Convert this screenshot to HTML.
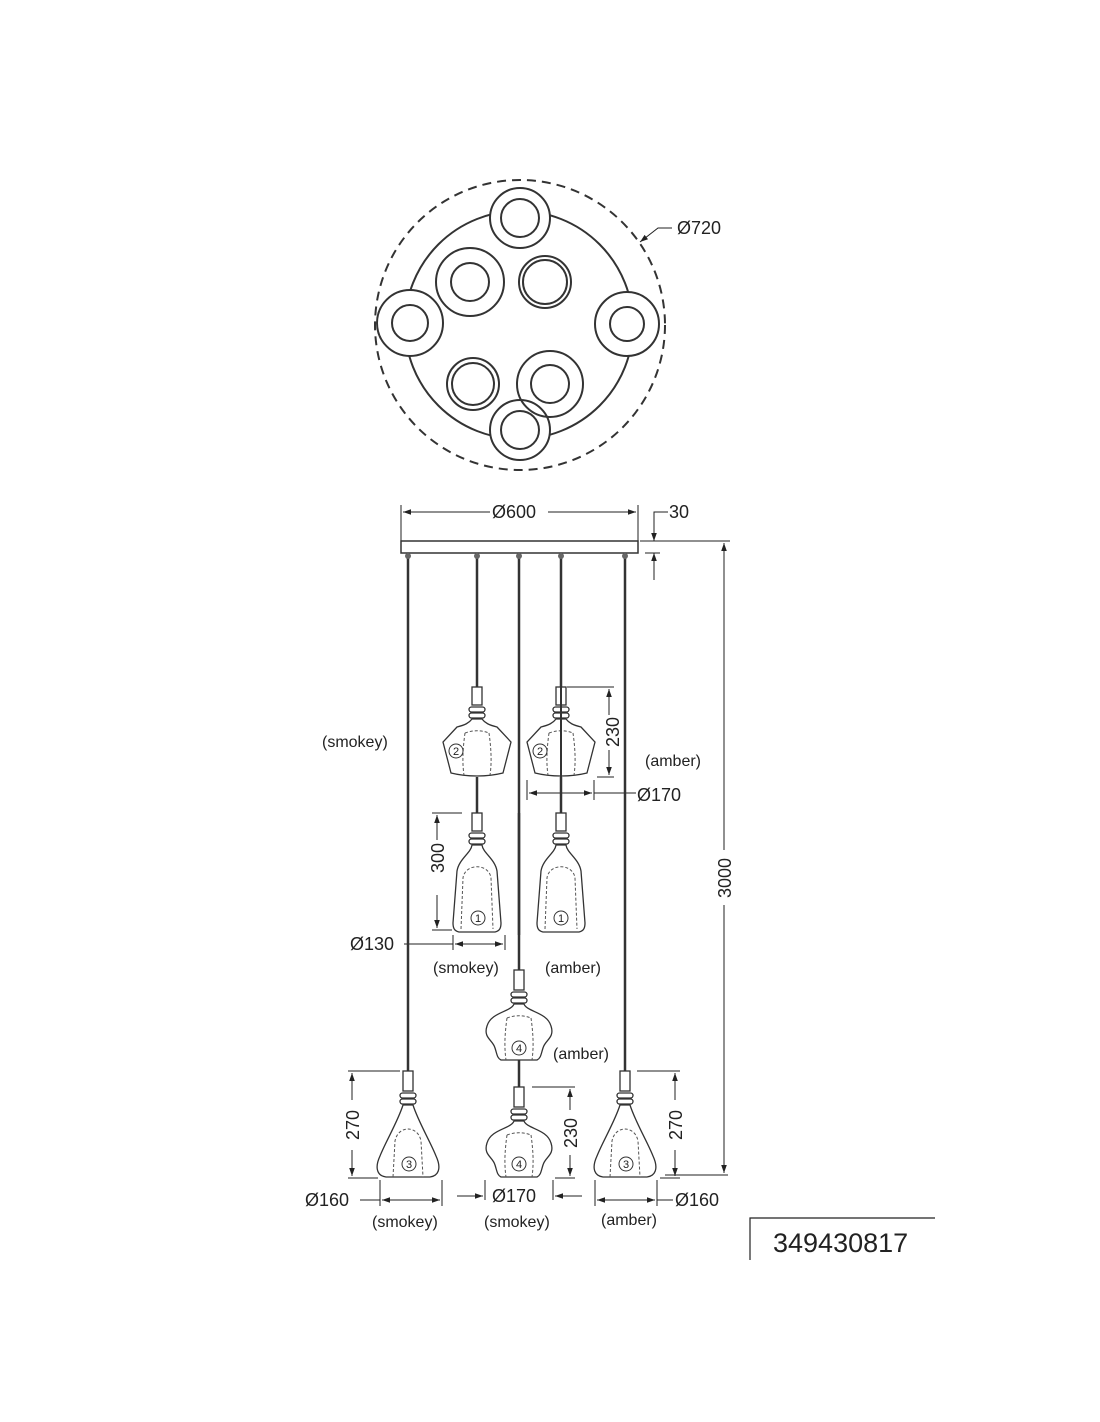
<!DOCTYPE html>
<html><head><style>body{margin:0;background:#fff}svg{display:block}text{font-family:"Liberation Sans",sans-serif;fill:#222}</style></head><body>
<svg width="1100" height="1422" viewBox="0 0 1100 1422" xmlns="http://www.w3.org/2000/svg">
<defs>
<marker id="a" viewBox="0 0 10 10" refX="10" refY="5" markerWidth="12" markerHeight="8" orient="auto-start-reverse" markerUnits="userSpaceOnUse"><path d="M0,1.5 L10,5 L0,8.5z" fill="#222"/></marker>
<g id="p2"><rect x="-5" y="0" width="10" height="18" fill="#fff" stroke="#333" stroke-width="1.3"/><rect x="-8" y="20" width="16" height="5" rx="2.5" fill="#fff" stroke="#333" stroke-width="1.3"/><rect x="-8" y="26" width="16" height="5" rx="2.5" fill="#fff" stroke="#333" stroke-width="1.3"/><path d="M-5,32 C-8,36 -12,38 -20,40 L-34,55 L-26,86 C-10,90 10,90 26,86 L34,55 L20,40 C12,38 8,36 5,32 Z" fill="#fff" stroke="#333" stroke-width="1.3"/><path d="M-12,46 C-14,60 -15,75 -13,88 M12,46 C14,60 15,75 13,88 M-12,46 C-4,43 4,43 12,46" fill="none" stroke="#555" stroke-dasharray="3,2"/></g>
<g id="p1"><rect x="-5" y="0" width="10" height="18" fill="#fff" stroke="#333" stroke-width="1.3"/><rect x="-8" y="20" width="16" height="5" rx="2.5" fill="#fff" stroke="#333" stroke-width="1.3"/><rect x="-8" y="26" width="16" height="5" rx="2.5" fill="#fff" stroke="#333" stroke-width="1.3"/><path d="M-5,32 C-6,40 -18,46 -20,58 L-24,110 C-24,116 -22,118 -18,119 L18,119 C22,118 24,116 24,110 L20,58 C18,46 6,40 5,32 Z" fill="#fff" stroke="#333" stroke-width="1.3"/><path d="M-16,116 L-14,65 C-12,50 12,50 14,65 L16,116" fill="none" stroke="#555" stroke-dasharray="3,2"/></g>
<g id="p4"><rect x="-5" y="0" width="10" height="20" fill="#fff" stroke="#333" stroke-width="1.3"/><rect x="-8" y="22" width="16" height="5" rx="2.5" fill="#fff" stroke="#333" stroke-width="1.3"/><rect x="-8" y="28" width="16" height="5" rx="2.5" fill="#fff" stroke="#333" stroke-width="1.3"/><path d="M-5,34 C-8,42 -28,42 -32,56 C-36,68 -26,70 -24,78 C-22,84 -22,88 -18,90 L18,90 C22,88 22,84 24,78 C26,70 36,68 32,56 C28,42 8,42 5,34 Z" fill="#fff" stroke="#333" stroke-width="1.3"/><path d="M-12,48 C-14,62 -15,76 -13,90 M12,48 C14,62 15,76 13,90 M-12,48 C-4,45 4,45 12,48" fill="none" stroke="#555" stroke-dasharray="3,2"/></g>
<g id="p3"><rect x="-5" y="0" width="10" height="20" fill="#fff" stroke="#333" stroke-width="1.3"/><rect x="-8" y="22" width="16" height="5" rx="2.5" fill="#fff" stroke="#333" stroke-width="1.3"/><rect x="-8" y="28" width="16" height="5" rx="2.5" fill="#fff" stroke="#333" stroke-width="1.3"/><path d="M-5,34 C-10,50 -22,70 -28,85 C-34,98 -30,105 -22,106 L22,106 C30,105 34,98 28,85 C22,70 10,50 5,34 Z" fill="#fff" stroke="#333" stroke-width="1.3"/><path d="M-15,106 L-13,70 C-10,54 10,54 13,70 L15,106" fill="none" stroke="#555" stroke-dasharray="3,2"/></g>
</defs>
<g fill="none" stroke="#333" stroke-width="2">
<circle cx="520" cy="325" r="145" stroke-dasharray="9,6"/>
<circle cx="519" cy="325" r="114"/>
<g fill="#fff"><circle cx="520" cy="218" r="30"/><circle cx="410" cy="323" r="33"/><circle cx="627" cy="324" r="32"/><circle cx="520" cy="430" r="30"/></g>
<circle cx="520" cy="218" r="19"/><circle cx="410" cy="323" r="18"/><circle cx="627" cy="324" r="17"/><circle cx="520" cy="430" r="19"/>
<circle cx="470" cy="282" r="34"/><circle cx="470" cy="282" r="19"/>
<circle cx="545" cy="282" r="26"/><circle cx="545" cy="282" r="22"/>
<circle cx="473" cy="384" r="26"/><circle cx="473" cy="384" r="21"/>
<circle cx="550" cy="384" r="33"/><circle cx="550" cy="384" r="19"/>
</g>
<g stroke="#222" stroke-width="1" fill="none">
<path d="M672,228 L658,228 L640,242" marker-end="url(#a)"/>
<path d="M401,505 V548 M638,505 V548"/>
<path d="M403,512 H490" marker-start="url(#a)"/><path d="M548,512 H636" marker-end="url(#a)"/>
<path d="M668,512 H654 V541" marker-end="url(#a)"/><path d="M654,580 V553" marker-end="url(#a)"/>
<path d="M645,553 H660"/>
<path d="M640,541 H730"/>
<path d="M724,543 V850" marker-start="url(#a)"/><path d="M724,905 V1173" marker-end="url(#a)"/>
<path d="M665,1175 H728"/>
<path d="M567,687 H614 M597,777 H614"/>
<path d="M609,689 V715" marker-start="url(#a)"/><path d="M609,750 V775" marker-end="url(#a)"/>
<path d="M527,780 V800 M594,780 V800"/>
<path d="M529,793 H560" marker-start="url(#a)"/><path d="M560,793 H592" marker-end="url(#a)"/>
<path d="M594,793 H636"/>
<path d="M432,813 H462 M432,930 H452"/>
<path d="M437,815 V840" marker-start="url(#a)"/><path d="M437,895 V928" marker-end="url(#a)"/>
<path d="M453,935 V950 M505,935 V950"/>
<path d="M404,944 H453"/>
<path d="M455,944 H478" marker-start="url(#a)"/><path d="M478,944 H503" marker-end="url(#a)"/>
<path d="M348,1071 H400 M348,1178 H378"/>
<path d="M352,1073 V1100" marker-start="url(#a)"/><path d="M352,1150 V1176" marker-end="url(#a)"/>
<path d="M380,1180 V1206 M442,1180 V1206"/>
<path d="M360,1200 H380"/>
<path d="M382,1200 H410" marker-start="url(#a)"/><path d="M410,1200 H440" marker-end="url(#a)"/>
<path d="M485,1180 V1200 M553,1180 V1200"/>
<path d="M457,1196 H483" marker-end="url(#a)"/><path d="M582,1196 H555" marker-end="url(#a)"/>
<path d="M532,1087 H575 M555,1178 H575"/>
<path d="M570,1089 V1110" marker-start="url(#a)"/><path d="M570,1155 V1176" marker-end="url(#a)"/>
<path d="M637,1071 H680 M660,1178 H680"/>
<path d="M675,1073 V1100" marker-start="url(#a)"/><path d="M675,1150 V1176" marker-end="url(#a)"/>
<path d="M595,1180 V1206 M657,1180 V1206"/>
<path d="M597,1200 H625" marker-start="url(#a)"/><path d="M625,1200 H655" marker-end="url(#a)"/>
<path d="M657,1200 H673"/>
</g>
<rect x="401" y="541" width="237" height="12" fill="#fff" stroke="#333" stroke-width="1.5"/>
<g stroke="#333" stroke-width="2.5" fill="none">
<path d="M408,555 V1071 M477,555 V687 M477,777 V813 M519,555 V970 M519,1060 V1087 M561,555 V687 M561,777 V813 M625,555 V1071"/>
</g>
<g fill="#666"><circle cx="408" cy="556" r="3"/><circle cx="477" cy="556" r="3"/><circle cx="519" cy="556" r="3"/><circle cx="561" cy="556" r="3"/><circle cx="625" cy="556" r="3"/></g>
<use href="#p2" x="477" y="687"/><use href="#p2" x="561" y="687"/>
<path d="M561,687 V777" stroke="#333" stroke-width="2"/>
<use href="#p1" x="477" y="813"/><use href="#p1" x="561" y="813"/>
<path d="M519,813 V935" stroke="#333" stroke-width="2.5"/>
<use href="#p4" x="519" y="970"/><use href="#p4" x="519" y="1087"/>
<use href="#p3" x="408" y="1071"/><use href="#p3" x="625" y="1071"/>
<g fill="#fff" stroke="#333" stroke-width="1"><circle cx="456" cy="751" r="7"/><circle cx="540" cy="751" r="7"/><circle cx="478" cy="918" r="7"/><circle cx="561" cy="918" r="7"/><circle cx="519" cy="1048" r="7"/><circle cx="519" cy="1164" r="7"/><circle cx="409" cy="1164" r="7"/><circle cx="626" cy="1164" r="7"/></g>
<g font-size="11" text-anchor="middle"><text x="456" y="755">2</text><text x="540" y="755">2</text><text x="478" y="922">1</text><text x="561" y="922">1</text><text x="519" y="1052">4</text><text x="519" y="1168">4</text><text x="409" y="1168">3</text><text x="626" y="1168">3</text></g>
<g font-size="18">
<text x="677" y="234">Ø720</text>
<text x="492" y="518">Ø600</text>
<text x="669" y="518">30</text>
<text x="637" y="801">Ø170</text>
<text x="350" y="950">Ø130</text>
<text x="305" y="1206">Ø160</text>
<text x="492" y="1202">Ø170</text>
<text x="675" y="1206">Ø160</text>
<text transform="translate(731,878) rotate(-90)" text-anchor="middle">3000</text>
<text transform="translate(619,732) rotate(-90)" text-anchor="middle">230</text>
<text transform="translate(444,858) rotate(-90)" text-anchor="middle">300</text>
<text transform="translate(359,1125) rotate(-90)" text-anchor="middle">270</text>
<text transform="translate(577,1133) rotate(-90)" text-anchor="middle">230</text>
<text transform="translate(682,1125) rotate(-90)" text-anchor="middle">270</text>
</g>
<g font-size="16">
<text x="322" y="747">(smokey)</text>
<text x="645" y="766">(amber)</text>
<text x="433" y="973">(smokey)</text>
<text x="545" y="973">(amber)</text>
<text x="553" y="1059">(amber)</text>
<text x="372" y="1227">(smokey)</text>
<text x="484" y="1227">(smokey)</text>
<text x="601" y="1225">(amber)</text>
</g>
<path d="M750,1260 V1218 H935" fill="none" stroke="#222" stroke-width="1.2"/>
<text x="773" y="1252" font-size="27">349430817</text>
</svg>
</body></html>
